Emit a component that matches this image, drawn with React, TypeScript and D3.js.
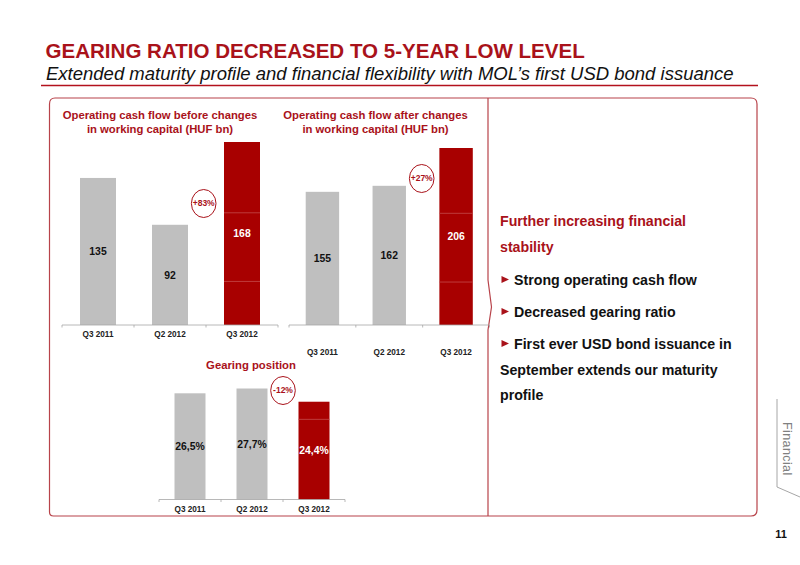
import React from "react";
import * as d3 from "d3";

const quarters = ["Q3 2011", "Q2 2012", "Q3 2012"];
const beforeValues = [135, 92, 168];
const afterValues = [155, 162, 206];
const gearingValues = [26.5, 27.7, 24.4];
// faint lines that show through the highlighted bar
const beforeDividers = [40, 103];
const afterDividers = [50, 130];
const gearingDividers = [20];

const RED = "#a9121a";
const DARK_RED = "#a80000";
const GREY = "#bfbfbf";
const FONT = "'Liberation Sans', Arial, sans-serif";

type ChartProps = {
  values: number[];
  dividers: number[];
  x0: number;
  x1: number;
  base: number;
  top: number;
  tickY: number;
  format: (v: number) => string;
};

function Chart({ values, dividers, x0, x1, base, top, tickY, format }: ChartProps) {
  const x = d3.scaleBand<string>().domain(quarters).range([x0, x1]).paddingInner(0.5).paddingOuter(0.25);
  const y = d3.scaleLinear().domain([0, d3.max(values) as number]).range([base, top]);
  const last = quarters.length - 1;
  const edges = d3.range(quarters.length + 1).map((i) => x0 + i * x.step());

  return (
    <g fontFamily={FONT}>
      {quarters.map((q, i) => (
        <rect
          key={q}
          x={x(q)}
          y={y(values[i])}
          width={x.bandwidth()}
          height={base - y(values[i])}
          fill={i === last ? DARK_RED : GREY}
        />
      ))}
      {dividers.map((d) => (
        <line
          key={d}
          x1={x(quarters[last])}
          x2={(x(quarters[last]) as number) + x.bandwidth()}
          y1={y(d)}
          y2={y(d)}
          stroke="#c44a4a"
          strokeWidth={0.8}
        />
      ))}
      <line x1={x0} x2={x1} y1={base} y2={base} stroke="#a6a6a6" strokeWidth={0.8} />
      {edges.map((e) => (
        <line key={e} x1={e} x2={e} y1={base} y2={base + 2.5} stroke="#a6a6a6" strokeWidth={0.8} />
      ))}
      {quarters.map((q, i) => (
        <g key={q} textAnchor="middle" fontWeight="bold">
          <text
            x={(x(q) as number) + x.bandwidth() / 2}
            y={(y(values[i]) + base) / 2}
            dy="0.35em"
            fontSize={10.4}
            fill={i === last ? "#fff" : "#111"}
          >
            {format(values[i])}
          </text>
          <text x={(x(q) as number) + x.bandwidth() / 2} y={tickY} fontSize={8.2} fill="#222">
            {q}
          </text>
        </g>
      ))}
    </g>
  );
}

function Bubble({ cx, cy, label }: { cx: number; cy: number; label: string }) {
  return (
    <g fontFamily={FONT}>
      <ellipse cx={cx} cy={cy} rx={12.3} ry={14} fill="#fff" stroke={RED} strokeWidth={1} />
      <text x={cx} y={cy} dy="0.35em" textAnchor="middle" fontSize={8.5} fontWeight="bold" fill={RED}>
        {label}
      </text>
    </g>
  );
}

function Arrow({ y }: { y: number }) {
  return <path d={`M501.5 ${y - 9} L509 ${y - 5.5} L501.5 ${y - 2} Z`} fill={RED} />;
}

function App() {
  return (
    <svg width={800} height={565} style={{ position: "absolute", left: 0, top: 0 }}>
      <rect width={800} height={565} fill="#fff" />

      <g fontFamily={FONT}>
        <text x={45.5} y={58} fontSize={20.55} fontWeight="bold" fill={RED}>
          GEARING RATIO DECREASED TO 5-YEAR LOW LEVEL
        </text>
        <text x={46} y={80} fontSize={18.5} fontStyle="italic" fill="#111">
          Extended maturity profile and financial flexibility with MOL’s first USD bond issuance
        </text>
      </g>
      <line x1={41} x2={758} y1={85.5} y2={85.5} stroke="#b3121d" strokeWidth={1.5} />

      {/* frame, with the chevron on the divider */}
      <path
        d="M488 98 H55 Q49.5 98 49.5 104 V512 Q49.5 516 53.5 516 H751 Q757 516 757 510 V104 Q757 98 751 98 H488 V280 L491.5 307 L488 330 V516"
        fill="none"
        stroke="#b8434a"
        strokeWidth={1.2}
      />

      <g fontFamily={FONT} fontSize={11.3} fontWeight="bold" fill={RED} textAnchor="middle">
        <text x={160} y={119}>Operating cash flow before changes</text>
        <text x={160} y={132.5}>in working capital (HUF bn)</text>
        <text x={375.5} y={119}>Operating cash flow after changes</text>
        <text x={375.5} y={132.5}>in working capital (HUF bn)</text>
        <text x={251} y={368.5}>Gearing position</text>
      </g>

      <Chart values={beforeValues} dividers={beforeDividers} x0={62} x1={278} base={325} top={142} tickY={337} format={String} />
      <Chart values={afterValues} dividers={afterDividers} x0={289} x1={489.5} base={325} top={148} tickY={355} format={String} />
      <Chart
        values={gearingValues}
        dividers={gearingDividers}
        x0={159}
        x1={345}
        base={499.5}
        top={388.5}
        tickY={512}
        format={(v) => v.toFixed(1).replace(".", ",") + "%"}
      />

      <Bubble cx={203.7} cy={203.5} label="+83%" />
      <Bubble cx={421.7} cy={178.5} label="+27%" />
      <Bubble cx={283} cy={390.5} label="-12%" />

      <g fontFamily={FONT} fontSize={14.2} fontWeight="bold" fill="#111">
        <text x={500} y={226} fill={RED}>Further increasing financial</text>
        <text x={500} y={252} fill={RED}>stability</text>
        <text x={514} y={285}>Strong operating cash flow</text>
        <text x={514} y={317}>Decreased gearing ratio</text>
        <text x={514} y={349}>First ever USD bond issuance in</text>
        <text x={500} y={375}>September extends our maturity</text>
        <text x={500} y={400}>profile</text>
      </g>
      <Arrow y={285} />
      <Arrow y={317} />
      <Arrow y={349} />

      {/* section tab */}
      <path d="M777 399 V487 L800 497" fill="none" stroke="#a6a6a6" strokeWidth={1} />
      <text
        transform="translate(783,422) rotate(90)"
        fontFamily={FONT}
        fontSize={12.5}
        letterSpacing={0.4}
        fill="#808080"
      >
        Financial
      </text>
      <text x={781} y={538} textAnchor="middle" fontFamily={FONT} fontSize={11} fontWeight="bold" fill="#111">
        11
      </text>
    </svg>
  );
}

export default App;
